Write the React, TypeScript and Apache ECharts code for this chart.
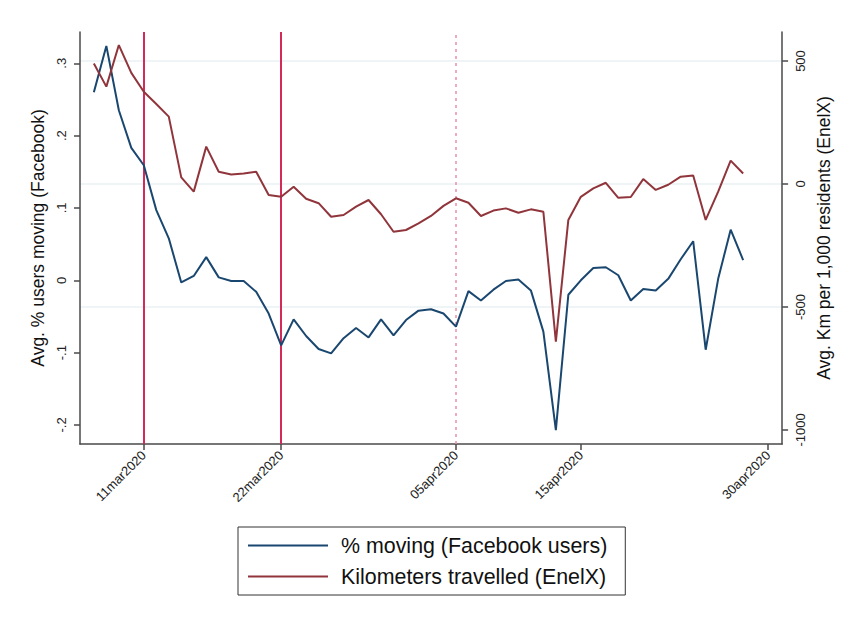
import React, { useEffect, useRef } from "react";
import * as echarts from "echarts";

// ---- Data ----
const dates: string[] = [
  "2020-03-07", "2020-03-08", "2020-03-09", "2020-03-10", "2020-03-11", "2020-03-12", "2020-03-13",
  "2020-03-14", "2020-03-15", "2020-03-16", "2020-03-17", "2020-03-18", "2020-03-19", "2020-03-20",
  "2020-03-21", "2020-03-22", "2020-03-23", "2020-03-24", "2020-03-25", "2020-03-26", "2020-03-27",
  "2020-03-28", "2020-03-29", "2020-03-30", "2020-03-31", "2020-04-01", "2020-04-02", "2020-04-03",
  "2020-04-04", "2020-04-05", "2020-04-06", "2020-04-07", "2020-04-08", "2020-04-09", "2020-04-10",
  "2020-04-11", "2020-04-12", "2020-04-13", "2020-04-14", "2020-04-15", "2020-04-16", "2020-04-17",
  "2020-04-18", "2020-04-19", "2020-04-20", "2020-04-21", "2020-04-22", "2020-04-23", "2020-04-24",
  "2020-04-25", "2020-04-26", "2020-04-27", "2020-04-28",
];

const facebookMoving: number[] = [
  0.26, 0.324, 0.235, 0.183, 0.159, 0.097, 0.058, -0.003, 0.006, 0.032, 0.004, -0.001, -0.001, -0.016,
  -0.046, -0.09, -0.054, -0.077, -0.095, -0.101, -0.08, -0.066, -0.079, -0.054, -0.076, -0.055, -0.042,
  -0.04, -0.046, -0.064, -0.015, -0.028, -0.013, -0.001, 0.001, -0.014, -0.071, -0.207, -0.02, 0.0,
  0.017, 0.018, 0.007, -0.028, -0.012, -0.014, 0.002, 0.029, 0.054, -0.096, 0.002, 0.07, 0.028,
];

const enelxKm: number[] = [
  490, 396, 565, 452, 375, 325, 274, 27, -31, 152, 50, 39, 43, 50, -45, -52, -11, -60, -78, -133, -126,
  -92, -65, -123, -194, -187, -160, -130, -89, -58, -76, -130, -108, -99, -117, -103, -113, -641, -146,
  -52, -18, 5, -56, -53, 20, -24, -3, 30, 35, -146, -31, 95, 43,
];

const xTickDates: string[] = ["2020-03-11", "2020-03-22", "2020-04-05", "2020-04-15", "2020-04-30"];
const xTickLabels: string[] = ["11mar2020", "22mar2020", "05apr2020", "15apr2020", "30apr2020"];

const leftTickValues: number[] = [-0.2, -0.1, 0, 0.1, 0.2, 0.3];
const leftTickLabels: string[] = ["-.2", "-.1", "0", ".1", ".2", ".3"];

const rightTickValues: number[] = [-1000, -500, 0, 500];
const rightTickLabels: string[] = ["-1000", "-500", "0", "500"];

const solidEventDates: string[] = ["2020-03-11", "2020-03-22"];
const dottedEventDates: string[] = ["2020-04-05"];

const seriesNames: string[] = ["% moving (Facebook users)", "Kilometers travelled (EnelX)"];

// ---- Helpers ----
const DAY = 86400000;
const base = Date.UTC(2020, 2, 7);
const dayIndex = (s: string) => {
  const [y, m, d] = s.split("-").map(Number);
  return Math.round((Date.UTC(y, m - 1, d) - base) / DAY);
};

const FONT = "Liberation Sans";
const AXIS_COLOR = "#4a4a4a";

export default function App() {
  const ref = useRef<HTMLDivElement>(null);

  useEffect(() => {
    if (!ref.current) return;
    const chart = echarts.init(ref.current, undefined, { renderer: "svg" });

    const xTickIdx = xTickDates.map(dayIndex);
    const fbData = facebookMoving.map((v, i) => [dayIndex(dates[i]), v]);
    const exData = enelxKm.map((v, i) => [dayIndex(dates[i]), v]);

    const option: any = {
      animation: false,
      backgroundColor: "#ffffff",
      textStyle: { fontFamily: FONT },
      grid: { left: 80, right: 57, top: 32, bottom: 174, containLabel: false },
      xAxis: {
        type: "value",
        min: -1.11,
        max: 55.12,
        axisLine: { show: true, onZero: false, lineStyle: { color: AXIS_COLOR, width: 1.5 } },
        axisTick: { show: true, customValues: xTickIdx, length: 6, lineStyle: { color: AXIS_COLOR, width: 1.5 } },
        axisLabel: {
          customValues: xTickIdx,
          rotate: 45,
          margin: 9,
          fontSize: 13,
          color: "#222",
          fontFamily: FONT,
          formatter: (v: number) => {
            const k = xTickIdx.indexOf(Math.round(v));
            return k >= 0 ? xTickLabels[k] : "";
          },
        },
        splitLine: { show: false },
      },
      yAxis: [
        {
          type: "value",
          position: "left",
          min: -0.2263,
          max: 0.3432,
          name: "Avg. % users moving (Facebook)",
          nameLocation: "middle",
          nameGap: 21,
          nameRotate: 90,
          nameTextStyle: { fontSize: 17.5, color: "#111", fontFamily: FONT },
          axisLine: { show: true, onZero: false, lineStyle: { color: AXIS_COLOR, width: 1.5 } },
          axisTick: { show: true, customValues: leftTickValues, length: 6, lineStyle: { color: AXIS_COLOR, width: 1.5 } },
          axisLabel: {
            customValues: leftTickValues,
            rotate: 90,
            margin: 12,
            fontSize: 13,
            color: "#222",
            fontFamily: FONT,
            formatter: (v: number) => {
              let k = -1;
              leftTickValues.forEach((t, i) => { if (Math.abs(t - v) < 1e-6) k = i; });
              return k >= 0 ? leftTickLabels[k] : "";
            },
          },
          splitLine: { show: false },
        },
        {
          type: "value",
          position: "right",
          min: -1057,
          max: 618,
          name: "Avg. Km per 1,000 residents (EnelX)",
          nameLocation: "middle",
          nameGap: 27,
          nameRotate: 90,
          nameTextStyle: { fontSize: 17.5, color: "#111", fontFamily: FONT },
          axisLine: { show: true, onZero: false, lineStyle: { color: AXIS_COLOR, width: 1.5 } },
          axisTick: { show: true, customValues: rightTickValues, length: 6, lineStyle: { color: AXIS_COLOR, width: 1.5 } },
          axisLabel: {
            customValues: rightTickValues,
            rotate: 90,
            margin: 12,
            fontSize: 13,
            color: "#222",
            fontFamily: FONT,
            formatter: (v: number) => {
              const k = rightTickValues.indexOf(Math.round(v));
              return k >= 0 ? rightTickLabels[k] : "";
            },
          },
          splitLine: { show: false },
        },
      ],
      legend: {
        orient: "vertical",
        left: 238,
        top: 527,
        padding: [8, 18, 8, 9],
        itemWidth: 80,
        itemHeight: 20,
        itemGap: 10,
        borderColor: "#333",
        borderWidth: 1,
        backgroundColor: "#fff",
        itemStyle: { opacity: 0 },
        textStyle: { fontSize: 21.4, color: "#111", fontFamily: FONT, padding: [0, 0, 0, 8] },
        data: seriesNames,
      },
      series: [
        {
          name: "gridlines",
          type: "line",
          yAxisIndex: 1,
          data: [],
          silent: true,
          z: 0,
          markLine: {
            silent: true,
            symbol: ["none", "none"],
            label: { show: false },
            z: 0,
            lineStyle: { color: "#eaf2f3", width: 1.6, type: "solid" },
            data: rightTickValues.filter((v) => v > -1000).map((v) => ({ yAxis: v })),
          },
        },
        {
          name: seriesNames[0],
          type: "line",
          yAxisIndex: 0,
          data: fbData,
          symbol: "none",
          color: "#1a476f",
          lineStyle: { color: "#1a476f", width: 2 },
          z: 3,
          markLine: {
            silent: true,
            symbol: ["none", "none"],
            label: { show: false },
            z: 2,
            data: [
              ...solidEventDates.map((d) => ({
                xAxis: dayIndex(d),
                lineStyle: { color: "#d42a5a", width: 2, type: "solid" },
              })),
              ...dottedEventDates.map((d) => ({
                xAxis: dayIndex(d),
                lineStyle: { color: "#ec8fab", width: 1.5, type: [3, 4] },
              })),
            ],
          },
        },
        {
          name: seriesNames[1],
          type: "line",
          yAxisIndex: 1,
          data: exData,
          symbol: "none",
          color: "#90353b",
          lineStyle: { color: "#90353b", width: 2 },
          z: 3,
        },
      ],
    };

    chart.setOption(option);
    return () => chart.dispose();
  }, []);

  return (
    <div
      ref={ref}
      style={{ position: "fixed", left: 0, top: 0, width: 841, height: 618, background: "#fff" }}
    />
  );
}
